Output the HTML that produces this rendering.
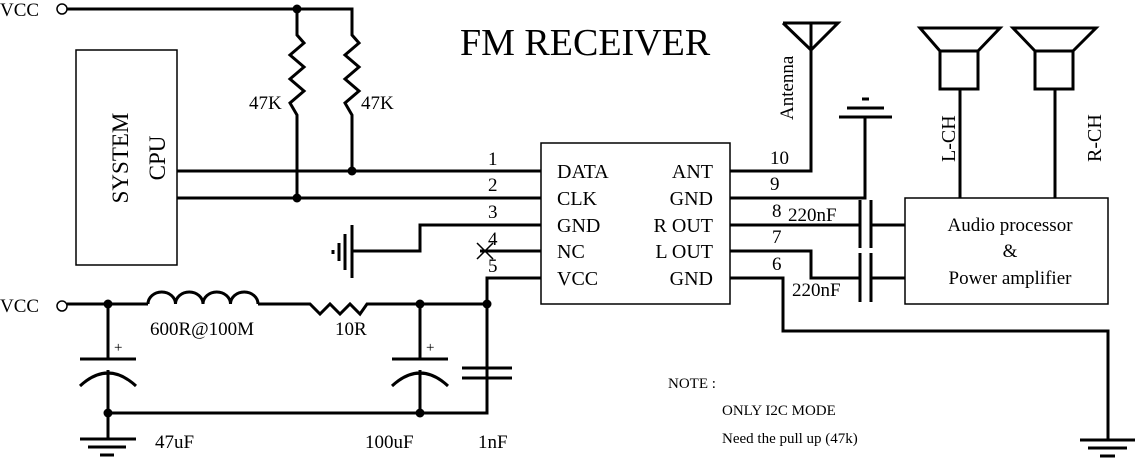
<!DOCTYPE html>
<html><head><meta charset="utf-8"><style>
html,body{margin:0;padding:0;background:#fff}
svg{display:block}
text{font-family:"Liberation Serif",serif;fill:#000}
</style></head><body>
<svg width="1137" height="466" viewBox="0 0 1137 466" xmlns="http://www.w3.org/2000/svg">
<g stroke="#000" stroke-width="3" fill="none">
<circle cx="62" cy="9" r="5" stroke-width="1.5"/>
<path d="M67 9H352V35L359 43L345 55L359 67L345 79L359 91L345 103L352 115V171"/>
<path d="M297 9V35L304 43L290 55L304 67L290 79L304 91L290 103L297 115V198"/>
<path d="M177 171H541M177 198H541"/>
<path d="M541 225H420V251H352"/>
<path d="M352 225V278M345 234V270M339 243V261" />
<path d="M333 250V254"/>
<path d="M480 251H541"/>
<path d="M477 243L493 259M477 259L493 243" stroke-width="1.5"/>
<path d="M541 278H487V413H108"/>
<circle cx="62" cy="306" r="5" stroke-width="1.5"/>
<path d="M67 304H148"/>
<path d="M148 304A13.75 12 0 0 1 175.5 304A13.75 12 0 0 1 203 304A13.75 12 0 0 1 230.5 304A13.75 12 0 0 1 258 304"/>
<path d="M258 304H310L320 314L330 304L340 314L350 304L360 314L367 304H487"/>
<path d="M108 304V359M80 359H136M80 386Q108 360 136 386M108 370V439"/>
<path d="M420 304V359M392 359H448M392 386Q420 360 448 386M420 370V413"/>
<path d="M462 368H512M462 378H512M487 378V413"/>
<path d="M80 439H136M88 447H126M100 455H114"/>
<path d="M730 171H811V23M783 23H838L811 50L783 23"/>
<path d="M730 198H865V117M839 117H892M847 108H884M862 99H869"/>
<path d="M730 225H860M860 200V248M871 200V248M871 225H905"/>
<path d="M730 251H811V278H860M860 253V302M871 253V302M871 278H905"/>
<path d="M730 278H783V331H1108V440M1080 440H1135M1088 448H1127M1100 456H1115"/>
<path d="M960 198V89M940 51H978V89H940ZM940 51L920 28H1000L978 51"/>
<path d="M1055 198V89M1035 51H1073V89H1035ZM1035 51L1013 28H1096L1073 51"/>
</g>
<g stroke="#000" stroke-width="1.5" fill="none">
<rect x="76" y="50" width="101" height="215"/>
<rect x="541" y="143" width="189" height="161"/>
<rect x="905" y="198" width="203" height="106"/>
</g>
<g fill="#000">
<circle cx="297" cy="9" r="4.5"/><circle cx="352" cy="171" r="4.5"/><circle cx="297" cy="198" r="4.5"/>
<circle cx="108" cy="304" r="4.5"/><circle cx="420" cy="304" r="4.5"/><circle cx="487" cy="304" r="4.5"/>
<circle cx="108" cy="413" r="4.5"/><circle cx="420" cy="413" r="4.5"/>
</g>
<g font-size="19">
<text x="0" y="16">VCC</text>
<text x="0" y="312">VCC</text>
<text x="249" y="109">47K</text>
<text x="361" y="109">47K</text>
<text transform="translate(128 158) rotate(-90)" text-anchor="middle" font-size="23">SYSTEM</text>
<text transform="translate(165 158) rotate(-90)" text-anchor="middle" font-size="23">CPU</text>
<text x="460" y="55" font-size="38">FM RECEIVER</text>
<text x="488" y="165">1</text><text x="488" y="191">2</text><text x="488" y="218">3</text><text x="488" y="245">4</text><text x="488" y="272">5</text>
<g font-size="20">
<text x="557" y="178">DATA</text><text x="557" y="205">CLK</text><text x="557" y="232">GND</text><text x="557" y="258">NC</text><text x="557" y="285">VCC</text>
<text x="713" y="178" text-anchor="end">ANT</text><text x="713" y="205" text-anchor="end">GND</text><text x="713" y="232" text-anchor="end">R OUT</text><text x="713" y="258" text-anchor="end">L OUT</text><text x="713" y="285" text-anchor="end">GND</text>
</g>
<text x="770" y="164">10</text><text x="770" y="190">9</text><text x="772" y="217">8</text><text x="772" y="243">7</text><text x="772" y="270">6</text>
<text x="788" y="221">220nF</text>
<text x="792" y="296">220nF</text>
<text transform="translate(793 120) rotate(-90)" font-size="19">Antenna</text>
<text transform="translate(955 162) rotate(-90)" font-size="20">L-CH</text>
<text transform="translate(1101 162) rotate(-90)" font-size="20">R-CH</text>
<text x="1010" y="231" text-anchor="middle">Audio processor</text>
<text x="1010" y="257" text-anchor="middle">&amp;</text>
<text x="1010" y="284" text-anchor="middle">Power amplifier</text>
<text x="150" y="335">600R@100M</text>
<text x="335" y="335">10R</text>
<text x="155" y="448">47uF</text>
<text x="365" y="448">100uF</text>
<text x="478" y="448">1nF</text>
<text x="668" y="388" font-size="15">NOTE :</text>
<text x="722" y="415" font-size="15">ONLY I2C MODE</text>
<text x="722" y="443" font-size="15">Need the pull up (47k)</text>
<text x="114" y="352" font-size="15">+</text>
<text x="426" y="352" font-size="15">+</text>
</g>
</svg>
</body></html>
